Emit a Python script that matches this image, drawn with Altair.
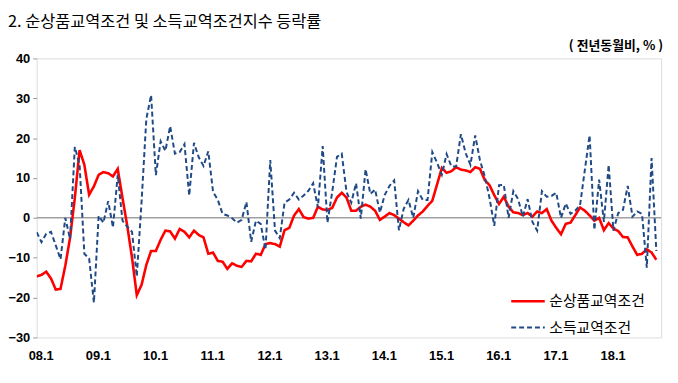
import altair as alt
import pandas as pd

title_text = "2. 순상품교역조건 및 소득교역조건지수 등락률"
unit_text = "( 전년동월비, % )"
series_names = ["순상품교역조건", "소득교역조건"]
tick_labels = ["08.1", "09.1", "10.1", "11.1", "12.1", "13.1", "14.1", "15.1", "16.1", "17.1", "18.1"]

# monthly, 2008.1 onward
net_barter = [
    -14.7, -14.3, -13.5, -15.2, -18.0, -17.8, -12.0, -5.0, 5.0, 17.0, 13.3, 5.8,
    7.9, 10.8, 11.5, 11.2, 10.4, 12.3, 5.0, -2.0, -10.0, -19.4, -16.8, -11.8,
    -8.3, -8.3, -5.5, -3.2, -3.4, -5.2, -2.8, -3.5, -4.9, -3.2, -4.3, -4.9,
    -9.0, -8.7, -10.8, -11.0, -12.8, -11.4, -12.0, -12.3, -10.8, -10.9, -9.0, -9.3,
    -6.6, -6.3, -6.6, -7.2, -3.1, -2.5, 0.6, 2.2, 0.2, -0.2, 0.0, 2.8,
    2.1, 2.0, 2.5, 5.1, 6.3, 5.1, 1.8, 1.8, 2.8, 3.3, 2.8, 1.8,
    -0.5, 0.3, 1.2, 0.7, -0.2, -1.1, -1.9, -0.7, 0.6, 1.6, 3.0, 4.3,
    8.4, 12.5, 11.3, 11.7, 12.7, 12.1, 11.9, 11.5, 12.7, 12.3, 9.5, 8.2,
    5.7, 3.5, 5.3, 2.8, 1.4, 1.2, 0.7, 1.2, 0.3, 1.6, 1.2, 2.2,
    -0.7, -2.5, -4.1, -1.5, -1.2, 0.7, 2.6, 1.8, 0.6, -0.7, 0.0, -3.1,
    -1.3, -2.7, -3.3, -4.8, -4.9, -7.2, -9.3, -9.0, -7.9, -8.7, -10.5,
]
income = [
    -3.6, -6.1, -4.0, -3.5, -6.9, -10.4, 0.0, -5.3, 17.8, 13.3, -9.0, -10.2,
    -21.3, 0.5, -1.2, 4.2, -2.4, 10.8, -0.7, -2.2, -3.5, -14.7, 4.0, 24.8,
    30.8, 10.7, 19.2, 16.8, 23.0, 16.1, 16.5, 18.5, 5.6, 18.8, 15.2, 13.0,
    16.7, 6.5, 4.5, 1.0, 0.6, -0.1, -1.2, -0.5, 4.0, -6.0, -0.7, -1.5,
    -8.0, 14.5, -3.2, -5.1, 3.8, 4.6, 6.3, 4.6, 5.6, 6.8, 8.7, 2.6,
    18.0, -1.2, 6.5, 15.3, 16.1, 6.5, 3.8, 8.7, -0.2, 12.2, 6.0, 7.1,
    1.3, 5.7, 8.0, 9.4, -3.1, 2.3, 4.5, 0.0, 6.7, 4.5, 4.5, 16.5,
    13.8, 10.8, 16.0, 12.9, 12.9, 21.0, 16.2, 13.3, 20.7, 14.4, 10.5, 5.0,
    -2.0, 8.2, 8.3, 0.0, 6.7, 4.7, 0.3, 4.7, -1.0, -3.2, 6.7, 5.3,
    5.5, 6.3, 0.0, 3.6, 1.0, 1.8, 3.2, 12.0, 20.7, -3.0, 9.6, -1.0,
    13.3, -3.2, 1.2, 2.0, 8.0, 0.3, 1.6, 1.0, -12.5, 15.0, -8.3,
]

n = len(net_barter)
df = pd.DataFrame({
    "i": list(range(n)) * 2,
    "value": net_barter + income,
    "series": [series_names[0]] * n + [series_names[1]] * n,
})

label_array = "[" + ",".join("'%s'" % t for t in tick_labels) + "]"

x_enc = alt.X(
    "i:Q",
    scale=alt.Scale(domain=[0, 131], nice=False, zero=False),
    axis=alt.Axis(
        values=list(range(0, 12 * len(tick_labels), 12)),
        labelExpr=label_array + "[round(datum.value / 12)]",
        title=None, grid=False, ticks=False, domain=False, labelFlush=False,
        labelFont="Liberation Sans", labelFontSize=13, labelFontWeight="bold",
        labelColor="black", labelPadding=12, labelOffset=4,
    ),
)
y_enc = alt.Y(
    "value:Q",
    scale=alt.Scale(domain=[-30, 40], nice=False, zero=False),
    axis=alt.Axis(
        values=list(range(-30, 41, 10)),
        title=None, grid=False, domain=False, tickSize=4, tickColor="#999999",
        labelFont="Liberation Sans", labelFontSize=13, labelFontWeight="bold",
        labelColor="black", labelPadding=3,
    ),
)

legend = alt.Legend(
    title=None, orient="none", legendX=478, legendY=227,
    symbolType="stroke", symbolSize=1150, symbolStrokeWidth=2.2,
    labelFont="Noto Sans CJK KR", labelFontSize=15, labelColor="black",
    labelOffset=3, rowPadding=0,
)

lines = alt.Chart(df).mark_line(clip=True).encode(
    x=x_enc,
    y=y_enc,
    color=alt.Color("series:N", scale=alt.Scale(domain=series_names, range=["#FF0000", "#1F4A86"]), legend=legend),
    strokeDash=alt.StrokeDash("series:N", scale=alt.Scale(domain=series_names, range=[[1, 0], [5, 3]]), legend=legend),
    strokeWidth=alt.StrokeWidth("series:N", scale=alt.Scale(domain=series_names, range=[2.6, 2.0]), legend=None),
    order=alt.Order("i:Q"),
)

zero = alt.Chart(pd.DataFrame({"z": [0]})).mark_rule(color="#A0A0A0", strokeWidth=1.5).encode(y="z:Q")

title = alt.Chart(pd.DataFrame({"t": [title_text]})).mark_text(
    align="left", baseline="alphabetic", fontSize=16.5, font="Noto Sans CJK KR", color="black"
).encode(x=alt.value(-29), y=alt.value(-32), text="t:N")

unit = alt.Chart(pd.DataFrame({"t": [unit_text]})).mark_text(
    align="right", baseline="alphabetic", fontSize=13, font="Noto Sans CJK KR", fontWeight="bold", color="black"
).encode(x=alt.value(633), y=alt.value(-8), text="t:N")

chart = alt.layer(zero, lines, title, unit).properties(
    width=631, height=282,
    autosize=alt.AutoSizeParams(type="none"),
    padding={"left": 29, "top": 49, "right": 9, "bottom": 36},
).configure_view(stroke="#1A1A1A", strokeWidth=2.2).configure(background="white")

chart.save("out.html", embed_options={"renderer": "svg", "actions": False})
